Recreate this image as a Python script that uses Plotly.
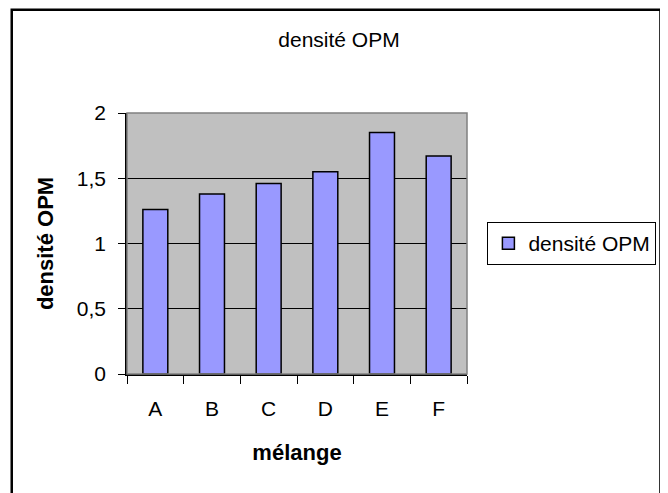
import plotly.graph_objects as go

# Données
melanges = ["A", "B", "C", "D", "E", "F"]
densite_opm = [1.26, 1.38, 1.46, 1.55, 1.85, 1.67]
y_ticks = [0, 0.5, 1, 1.5, 2]

FONT = "Liberation Sans, Arial, sans-serif"

fig = go.Figure()
fig.add_trace(go.Bar(
    x=melanges, y=densite_opm, name="densité OPM",
    marker={"color": "#9999FF", "line": {"color": "black", "width": 1.5}},
))

# cadre du graphique
fig.add_shape(
    type="rect", xref="paper", yref="paper",
    x0=-0.339, x1=1.569, y0=-0.5, y1=1.396,
    line={"color": "black", "width": 2.5}, fillcolor="rgba(0,0,0,0)",
)
# bordure grise de la zone de traçage
fig.add_shape(
    type="rect", xref="paper", yref="paper",
    x0=0, x1=1, y0=0, y1=1,
    line={"color": "#808080", "width": 1.5}, fillcolor="rgba(0,0,0,0)",
)

# la page ajoute une marge de 8 px autour de la figure
fig.update_layout(
    width=660, height=485,
    margin={"l": 119, "r": 199, "t": 105, "b": 119},
    paper_bgcolor="white", plot_bgcolor="#C0C0C0",
    font={"family": FONT, "size": 21, "color": "black"},
    separators=", ",
    title={"text": "densité OPM", "x": 0.5015, "xanchor": "center",
           "y": 0.934, "yanchor": "middle", "font": {"size": 21}},
    bargap=0.56,
    showlegend=True,
    legend={"x": 1.06, "xanchor": "left", "y": 0.582, "yanchor": "top",
            "bgcolor": "white", "bordercolor": "black", "borderwidth": 1,
            "font": {"size": 21}},
)
fig.update_xaxes(
    type="category", showline=True, linecolor="black", linewidth=1.5,
    ticks="outside", tickson="boundaries", ticklen=8, tickcolor="black",
    ticklabelstandoff=15, showgrid=False,
    title={"text": "<b>mélange</b>", "standoff": 26, "font": {"size": 22}},
)
fig.update_yaxes(
    range=[0, 2], tickvals=y_ticks, showline=True, linecolor="black",
    linewidth=1.5, ticks="outside", ticklen=7, tickcolor="black",
    ticklabelstandoff=8, showgrid=True, gridcolor="black", gridwidth=1,
    zeroline=False,
    title={"text": "<b>densité OPM</b>", "standoff": 17, "font": {"size": 22}},
)

fig.write_html("out.html")
